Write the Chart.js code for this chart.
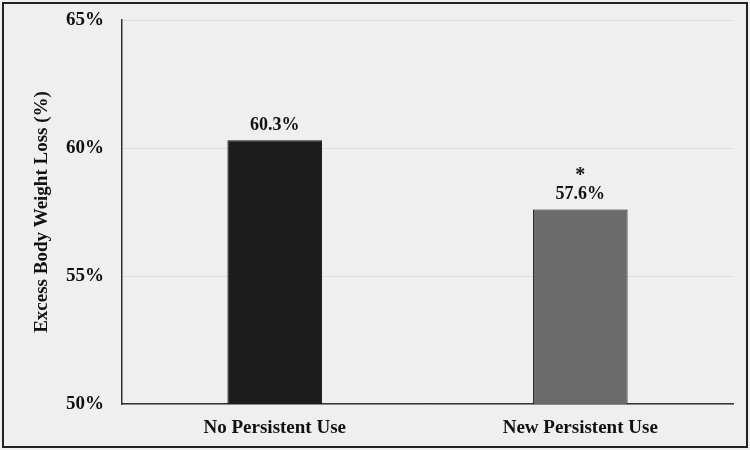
<!DOCTYPE html>
<html>
<head>
<meta charset="utf-8">
<script src="https://cdn.jsdelivr.net/npm/chart.js@4"></script>
<style>
  html, body { margin: 0; padding: 0; background: #efefef; }
  canvas { display: block; }
</style>
</head>
<body>
<canvas id="myChart" width="750" height="450"></canvas>
<script>
/******* data *********/
const categories = ["No Persistent Use", "New Persistent Use"];
const lossValues = [60.3, 57.6];
const valueLabels = ["60.3%", "57.6%"];
const starMarks = ["", "*"];
const barColors = ["#1c1c1c", "#6b6b6b"];
const yTicks = [50, 55, 60, 65];

const serif = "'Liberation Serif', 'Times New Roman', serif";

/******* plugins *********/
const frame = { // page background + outer box
    id: "frame",
    beforeDraw(chart) {
        const c = chart.ctx;
        c.save();
        c.fillStyle = "#efefef";
        c.fillRect(0, 0, chart.width, chart.height);
        c.strokeStyle = "#222";
        c.lineWidth = 2;
        c.strokeRect(3, 3, chart.width - 6, chart.height - 6);
        c.restore();
    }
};
const barLabels = { // value text and star above each bar
    id: "barLabels",
    afterDatasetsDraw(chart) {
        const c = chart.ctx;
        const meta = chart.getDatasetMeta(0);
        c.save();
        c.fillStyle = "#111";
        c.textAlign = "center";
        c.textBaseline = "bottom";
        meta.data.forEach((bar, i) => {
            c.font = "bold 18px " + serif;
            c.fillText(valueLabels[i], bar.x, bar.y - 6);
            if (starMarks[i]) {
                c.font = "bold 20px " + serif;
                c.fillText(starMarks[i], bar.x, bar.y - 24);
            }
        });
        c.restore();
    }
};

/******* chart *********/
const ctx = document.getElementById("myChart").getContext("2d");
const myChart = new Chart(ctx, {
    type: "bar",
    data: {
        labels: categories,
        datasets: [{
            data: lossValues,
            backgroundColor: barColors,
            borderColor: "#111",
            borderWidth: 1,
            barPercentage: 0.31,
            categoryPercentage: 1
        }]
    },
    options: {
        responsive: false,
        animation: false,
        layout: { padding: { top: 20, right: 17, left: 0, bottom: 0 } },
        plugins: {
            legend: { display: false },
            tooltip: { enabled: false }
        },
        scales: {
            x: {
                grid: { display: false, drawTicks: false },
                border: { color: "#333", width: 1.5 },
                ticks: {
                    color: "#111",
                    padding: 13,
                    font: { family: serif, size: 19, weight: "bold" }
                },
                afterFit(scale) { scale.height = 46; }
            },
            y: {
                min: 50,
                max: 65,
                afterBuildTicks(scale) { scale.ticks = yTicks.map(v => ({ value: v })); },
                grid: { color: "#dcdcdc", drawTicks: false },
                border: { color: "#333", width: 1.5 },
                ticks: {
                    color: "#111",
                    padding: 18,
                    font: { family: serif, size: 19, weight: "bold" },
                    callback: v => v + "%"
                },
                title: {
                    display: true,
                    text: "Excess Body Weight Loss (%)",
                    color: "#111",
                    font: { family: serif, size: 19, weight: "bold" },
                    padding: { top: 31, bottom: 0 }
                },
                afterFit(scale) {
                    scale.width = 122;
                    scale.paddingTop = 0;
                    scale.paddingBottom = 0;
                }
            }
        }
    },
    plugins: [frame, barLabels]
});
</script>
</body>
</html>
